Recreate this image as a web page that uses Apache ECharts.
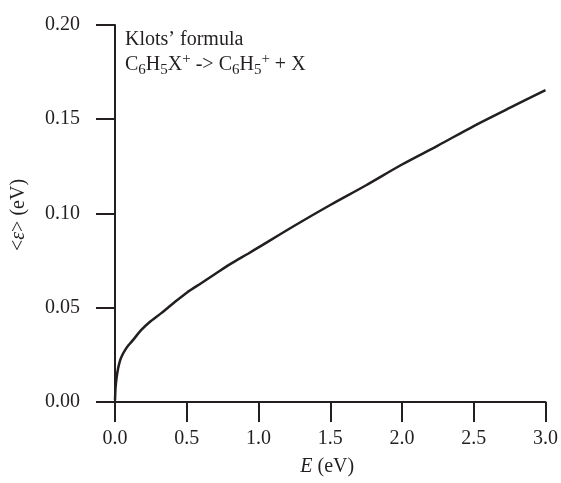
<!DOCTYPE html>
<html>
<head>
<meta charset="utf-8">
<script src="https://cdn.jsdelivr.net/npm/echarts@6/dist/echarts.min.js"></script>
<style>
  html, body { margin: 0; padding: 0; background: #fff; }
  #chart { width: 561px; height: 483px; }
</style>
</head>
<body>
<div id="chart"></div>
<script>
// ── Datos ─────────────────────────────────────────────────────────────────
const ENERGY = [0, 0.004, 0.012, 0.022, 0.035, 0.05, 0.07, 0.095, 0.125, 0.18, 0.24, 0.32, 0.4,
                0.5, 0.6, 0.7, 0.8, 0.93, 1.0, 1.25, 1.5, 1.75, 2.0, 2.25, 2.5, 2.75, 3.0];
const EPSILON = [0.001, 0.008, 0.0135, 0.018, 0.022, 0.0248, 0.0275, 0.0302, 0.0328, 0.038,
                 0.0423, 0.047, 0.052, 0.058, 0.063, 0.068, 0.073, 0.0788, 0.082, 0.0935,
                 0.1045, 0.115, 0.126, 0.136, 0.1464, 0.156, 0.1655];
const X_TICKS = [0, 0.5, 1.0, 1.5, 2.0, 2.5, 3.0];
const Y_TICKS = [0, 0.05, 0.10, 0.15, 0.20];

const FONT = 'Liberation Serif, Times New Roman, serif';
const INK = '#231f20';

const chart = echarts.init(document.getElementById('chart'), null, { renderer: 'canvas' });

const axisCommon = {
  axisLine: { show: true, lineStyle: { color: INK, width: 2 } },
  axisTick: { show: true, inside: false, length: 19, lineStyle: { color: INK, width: 2 } },
  splitLine: { show: false },
  nameLocation: 'middle',
  nameTextStyle: {
    fontFamily: FONT, fontSize: 20, color: INK,
    rich: { i: { fontFamily: FONT, fontSize: 20, fontStyle: 'italic', color: INK } },
  },
};

chart.setOption({
  animation: false,
  textStyle: { fontFamily: FONT },
  grid: { left: 109, right: 13, top: 25, bottom: 78, containLabel: false },
  xAxis: {
    ...axisCommon,
    type: 'value',
    min: -0.042,
    max: 3.0,
    name: '{i|E} (eV)',
    nameGap: 52,
    axisTick: { ...axisCommon.axisTick, length: 20, customValues: X_TICKS },
    axisLabel: {
      customValues: X_TICKS,
      margin: 24,
      fontFamily: FONT, fontSize: 20, color: INK,
      formatter: (v) => v.toFixed(1),
    },
  },
  yAxis: {
    ...axisCommon,
    type: 'value',
    min: -0.0016,
    max: 0.20,
    name: '<{i|ε}> (eV)',
    nameGap: 80,
    axisTick: { ...axisCommon.axisTick, customValues: Y_TICKS },
    axisLabel: {
      customValues: Y_TICKS,
      margin: 29,
      fontFamily: FONT, fontSize: 20, color: INK,
      formatter: (v) => v.toFixed(2),
    },
  },
  graphic: [
    {
      type: 'text',
      x: 125, y: 30,
      style: {
        text: 'Klots\u2019 formula',
        font: '20px ' + FONT,
        fill: INK,
      },
    },
    {
      type: 'text',
      x: 125, y: 52,
      style: {
        text: 'C{sub|6}H{sub|5}X{sup|+} -> C{sub|6}H{sub|5}{sup|+} + X',
        font: '20px ' + FONT,
        fill: INK,
        lineHeight: 26,
        rich: {
          sub: { font: '15px ' + FONT, fill: INK, verticalAlign: 'bottom', lineHeight: 26 },
          sup: { font: '15px ' + FONT, fill: INK, verticalAlign: 'top', lineHeight: 26 },
        },
      },
    },
  ],
  series: [{
    type: 'line',
    data: ENERGY.map((e, i) => [e, EPSILON[i]]),
    smooth: 0.3,
    symbol: 'none',
    lineStyle: { color: INK, width: 2.5 },
  }],
});
</script>
</body>
</html>
